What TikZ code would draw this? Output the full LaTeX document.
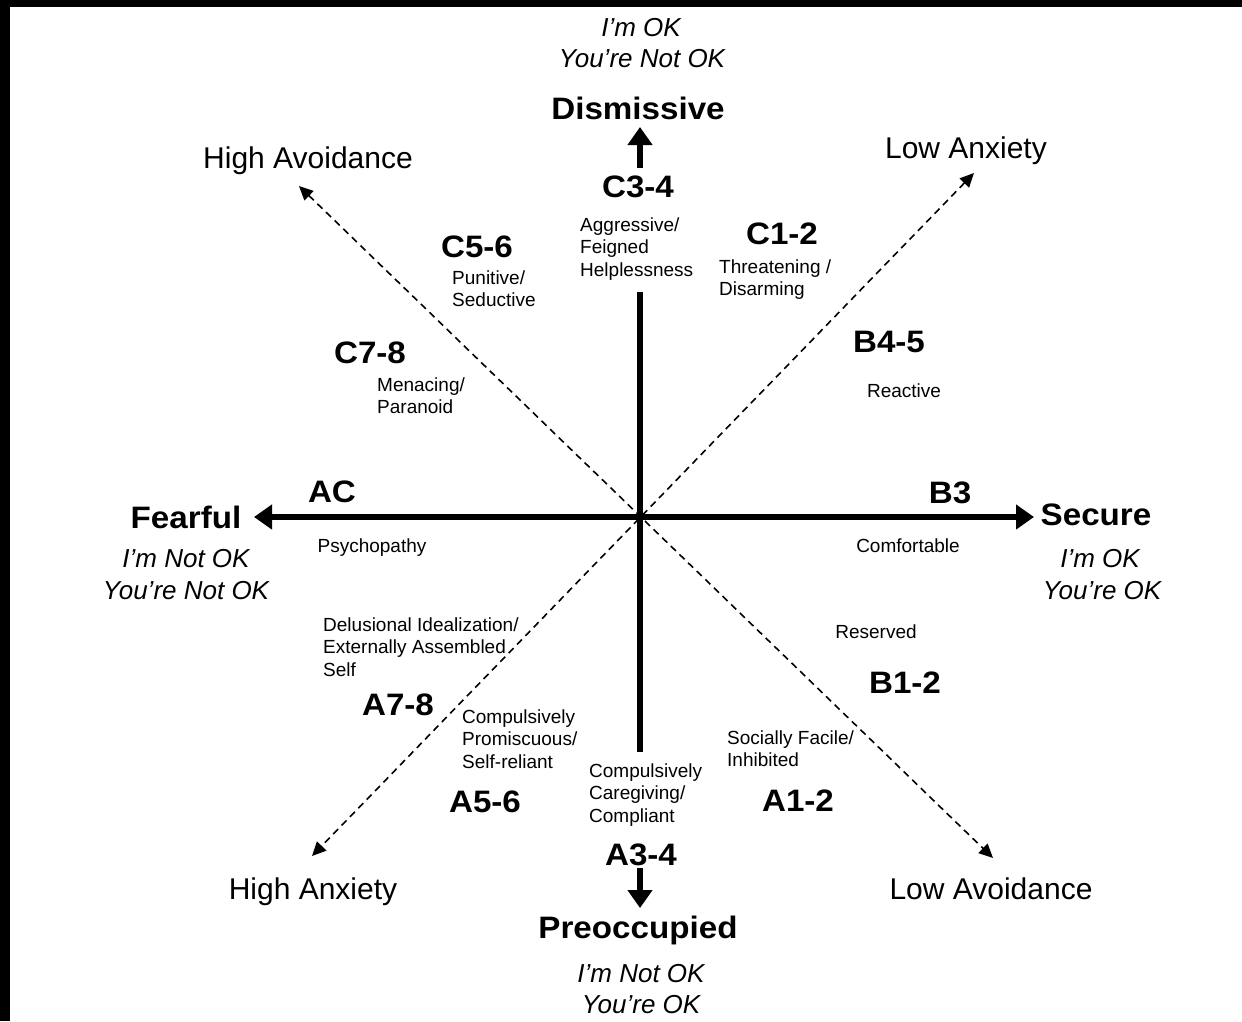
\documentclass[tikz,border=0pt]{standalone}
\usepackage{fontspec}
\usepackage{graphicx}
\setmainfont{Liberation Sans}
\usetikzlibrary{arrows.meta}
\newcommand{\wide}[1]{\scalebox{1.07}[1]{#1}}
\begin{document}
\begin{tikzpicture}[x=1pt,y=-1pt,
  big/.style={font=\fontsize{31}{36}\selectfont\bfseries, anchor=base, inner sep=0pt},
  corner/.style={font=\fontsize{30}{34}\selectfont, anchor=base, inner sep=0pt},
  okay/.style={font=\fontsize{26}{31}\selectfont\itshape, anchor=base, inner sep=0pt},
  lbl/.style={font=\fontsize{19}{22.5}\selectfont, anchor=base, inner sep=0pt},
  blk/.style={font=\fontsize{19}{22.5}\selectfont, align=left, anchor=north west, inner sep=0pt},
  axisline/.style={line width=5.5pt},
  bigtip/.style={-{Triangle[width=24pt,length=18pt]}},
  bothtips/.style={{Triangle[width=24pt,length=18pt]}-{Triangle[width=24pt,length=18pt]}},
  dashaxis/.style={line width=1.6pt, dash pattern=on 7pt off 5pt,
    {Triangle[width=13pt,length=14pt]}-{Triangle[width=13pt,length=14pt]}}
]
\useasboundingbox (0,0) rectangle (1242,1021);
\fill[black] (0,0) rectangle (1242,1021);
\fill[white] (10,7) rectangle (1242,1021);

% coordinates
\coordinate (O) at (640,517);
\coordinate (fearTip) at (254,517);
\coordinate (secTip) at (1034,517);
\coordinate (vTop) at (640,292);
\coordinate (vBot) at (640,752);
\coordinate (upStart) at (640,168);
\coordinate (upTip) at (640,127);
\coordinate (downStart) at (640,868);
\coordinate (downTip) at (640,908);
\coordinate (haTip) at (299,186);
\coordinate (lavTip) at (993,858);
\coordinate (lanTip) at (974,173);
\coordinate (hanTip) at (312,856);

% axes
\draw[dashaxis] (haTip) -- (lavTip);
\draw[dashaxis] (lanTip) -- (hanTip);
\draw[axisline, bothtips] (fearTip) -- (secTip);
\draw[line width=6pt] (vTop) -- (vBot);
\draw[line width=6pt, bigtip] (upStart) -- (upTip);
\draw[line width=6pt, bigtip] (downStart) -- (downTip);

% top
\node[okay] (topA) at (641,36) {I’m OK};
\node[okay] (topB) at (642,67) {You’re Not OK};
\node[big] (dism) at (638,119) {\wide{Dismissive}};
\node[big] (c34) at (638,197) {\wide{C3-4}};
\node[blk] (aggr) at (580,217.5) {Aggressive/\\Feigned\\Helplessness};
\node[big] (c12) at (782,244) {\wide{C1-2}};
\node[blk] (thr) at (719,259.5) {Threatening /\\Disarming};
\node[big] (c56) at (477,257) {\wide{C5-6}};
\node[blk] (pun) at (452,270.5) {Punitive/\\Seductive};
\node[corner] (hav) at (308,168) {High Avoidance};
\node[corner] (lan) at (966,158) {Low Anxiety};
\node[big] (b45) at (889,352) {\wide{B4-5}};
\node[lbl] (react) at (904,397) {Reactive};
\node[big] (c78) at (370,363) {\wide{C7-8}};
\node[blk] (men) at (377,377.5) {Menacing/\\Paranoid};

% middle
\node[big] (ac) at (332,502) {\wide{AC}};
\node[big] (fear) at (186,528) {\wide{Fearful}};
\node[lbl] (psy) at (372,552) {Psychopathy};
\node[okay] (leftA) at (186,567) {I’m Not OK};
\node[okay] (leftB) at (186,599) {You’re Not OK};
\node[big] (b3) at (950,503) {\wide{B3}};
\node[big] (sec) at (1096,525) {\wide{Secure}};
\node[lbl] (comf) at (908,552) {Comfortable};
\node[okay] (rightA) at (1100,567) {I’m OK};
\node[okay] (rightB) at (1102,599) {You’re OK};

% lower
\node[blk] (delu) at (323,617.5) {Delusional Idealization/\\Externally Assembled\\Self};
\node[lbl] (res) at (876,638) {Reserved};
\node[big] (b12) at (905,693) {\wide{B1-2}};
\node[big] (a78) at (398,715) {\wide{A7-8}};
\node[blk] (comp) at (462,709.5) {Compulsively\\Promiscuous/\\Self-reliant};
\node[blk] (soc) at (727,730.5) {Socially Facile/\\Inhibited};
\node[blk] (care) at (589,763.5) {Compulsively\\Caregiving/\\Compliant};
\node[big] (a56) at (485,812) {\wide{A5-6}};
\node[big] (a12) at (798,811) {\wide{A1-2}};
\node[big] (a34) at (641,865) {\wide{A3-4}};
\node[corner] (han) at (313,899) {High Anxiety};
\node[corner] (lav) at (991,899) {Low Avoidance};
\node[big] (pre) at (638,938) {\wide{Preoccupied}};
\node[okay] (botA) at (641,982) {I’m Not OK};
\node[okay] (botB) at (641,1013) {You’re OK};
\end{tikzpicture}
\end{document}
